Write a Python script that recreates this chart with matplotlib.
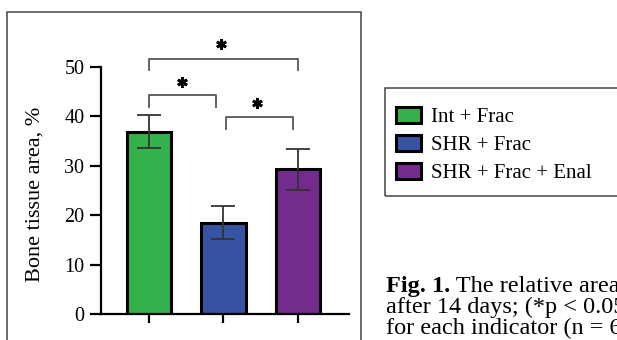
import matplotlib
matplotlib.use("Agg")
import matplotlib.pyplot as plt
from matplotlib.patches import Rectangle

plt.rcParams["font.family"] = ["Liberation Serif", "DejaVu Serif"]

# data
groups = ["Int + Frac", "SHR + Frac", "SHR + Frac + Enal"]
means = [36.9, 18.5, 29.3]
sem = [3.3, 3.3, 4.2]
colors = ["#33b24b", "#3853a4", "#742b8e"]
yticks = [0, 10, 20, 30, 40, 50]

# significance brackets: (x_left, x_right, y_top, y_foot) and star (x, y)
brackets = [(0, 0.9, 44.3, 41.9), (1.03, 1.94, 39.8, 37.5), (0, 2, 51.7, 49.3)]
stars = [(0.44, 47.0), (1.45, 42.7), (0.97, 54.6)]

caption_bold = "Fig. 1."
caption = [" The relative area", "after 14 days; (*p < 0.05", "for each indicator (n = 6"]

W, H = 617, 340
fig = plt.figure(figsize=(W / 100, H / 100), dpi=100)
ax = fig.add_axes([101 / W, 1 - 314.3 / H, 248 / W, 247.3 / H])

x = list(range(len(groups)))
bars = ax.bar(x, means, width=0.6, color=colors, edgecolor="black",
              linewidth=2.2, zorder=2)
bar_handles = list(bars)
for b, g in zip(bar_handles, groups):
    b.set_label(g)
ax.errorbar(x, means, yerr=sem, fmt="none", ecolor="#333333",
            elinewidth=1.3, capsize=8.5, capthick=1.3, zorder=3)

for x1, x2, yt, yf in brackets:
    ax.plot([x1, x1, x2, x2], [yf, yt, yt, yf], color="#555555",
            linewidth=1.3, clip_on=False)
for sx, sy in stars:
    ax.plot(sx, sy, marker=(6, 2, 0), markersize=7.5, mew=2,
            color="black", clip_on=False)

ax.set_xlim(-0.644, 2.685)
ax.set_ylim(0, 50)
ax.set_yticks(yticks)
ax.set_xticks(x)
ax.set_xticklabels([])
ax.spines["top"].set_visible(False)
ax.spines["right"].set_visible(False)
for s in ["left", "bottom"]:
    ax.spines[s].set_linewidth(1.6)
ax.tick_params(axis="y", length=8, width=1.6, pad=4, labelsize=14.5)
ax.tick_params(axis="x", length=6.5, width=1.6)
ax.set_ylabel("Bone tissue area, %", fontsize=16)
ax.yaxis.set_label_coords(-0.266, 0.486)
ax.yaxis.label.set_verticalalignment("center")

# outer frame and legend box (both run past the figure edge)
fig.patches.append(Rectangle((7 / W, -0.2), (361 - 7) / W, 1.2 - 12 / H,
                             transform=fig.transFigure, fill=False,
                             edgecolor="#444444", linewidth=1.1))
fig.patches.append(Rectangle((385 / W, 1 - 196 / H), 0.5, 108 / H,
                             transform=fig.transFigure, fill=False,
                             edgecolor="#444444", linewidth=1.1))

fig.legend(handles=bar_handles, loc="upper left",
           bbox_to_anchor=(396.5 / W, 1 - 107 / H), frameon=False,
           fontsize=15, borderpad=0, borderaxespad=0,
           handlelength=1.2, handleheight=0.8, handletextpad=0.45,
           labelspacing=0.38)

# caption, cut off at the right edge like the source
t0 = fig.text(386 / W, 1 - 291.7 / H, caption_bold, fontsize=17.5,
              fontweight="bold", va="baseline")
fig.canvas.draw()
bb = t0.get_window_extent()
fig.text(bb.x1 / W, 1 - 291.7 / H, caption[0], fontsize=17.5, va="baseline")
fig.text(386 / W, 1 - 313 / H, caption[1], fontsize=17.5, va="baseline")
fig.text(386 / W, 1 - 334.5 / H, caption[2], fontsize=17.5, va="baseline")

fig.savefig("out.png", dpi=100)
